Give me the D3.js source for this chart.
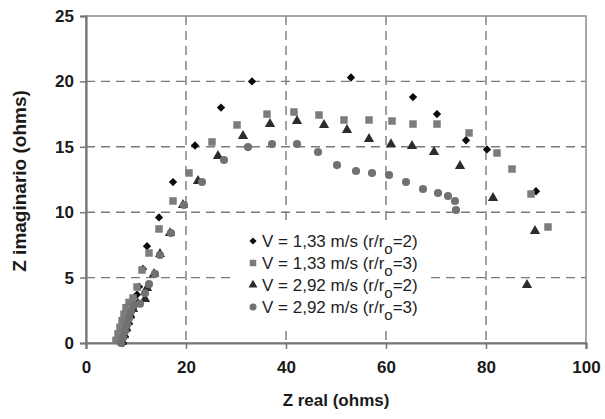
<!DOCTYPE html>
<html>
<head>
<meta charset="utf-8">
<script src="https://cdn.jsdelivr.net/npm/d3@7"></script>
<style>
  body { margin: 0; background: #fff; }
  text { font-family: "Liberation Sans", Arial, sans-serif; }
</style>
</head>
<body>
<div id="chart"></div>
<script>
var margin = {top: 16, right: 19, bottom: 76, left: 86},
    width = 605 - margin.left - margin.right,
    height = 419 - margin.top - margin.bottom;

// series labels
var velocities = ["1,33", "1,33", "2,92", "2,92"];
var ratios = ["2", "3", "2", "3"];

// [Z real, Z imaginario]
var serie1 = [[7.4,0],[7.8,0.5],[8.2,1.0],[8.6,1.5],[9.0,2.0],[9.4,2.6],[9.8,3.1],[10.2,3.7],[10.6,4.3],
  [11.4,5.66],[12.2,7.4],[14.6,9.6],[17.4,12.3],[21.8,15.1],[27.0,18.0],[33.2,20.0],[53.0,20.3],
  [65.4,18.8],[70.2,17.5],[76.0,15.5],[80.2,14.8],[90.0,11.6]];
var serie2 = [[6.0,0.2],[6.4,0.7],[6.8,1.2],[7.2,1.7],[7.6,2.2],[8.0,2.7],[8.6,3.1],[9.4,3.44],
  [10.2,4.28],[11.2,5.58],[12.6,6.88],[14.6,8.72],[17.4,10.86],[20.6,13.0],[25.2,15.37],[30.2,16.67],
  [36.2,17.5],[41.6,17.66],[46.6,17.43],[51.6,17.05],[56.6,17.05],[61.2,16.97],[65.4,16.74],
  [70.2,16.74],[76.6,16.06],[82.2,14.53],[85.2,13.3],[89.0,11.39],[92.4,8.87]];
var serie3 = [[7.2,0.1],[7.6,0.6],[8.0,1.1],[8.4,1.6],[8.8,2.1],[9.4,2.6],[10.4,3.0],[11.8,3.36],
  [12.2,4.2],[13.6,5.28],[14.8,6.8],[16.8,8.4],[19.4,10.55],[22.4,12.39],[26.4,14.3],[31.4,15.83],
  [36.8,16.74],[42.2,16.97],[47.6,16.67],[52.2,16.28],[56.6,15.6],[61.0,15.2],[65.2,15.06],
  [69.6,14.6],[74.8,13.53],[81.4,11.09],[89.8,8.56],[88.2,4.43]];
var serie4 = [[7.0,0.0],[7.4,0.4],[7.8,0.9],[8.2,1.4],[8.6,1.9],[9.0,2.4],[9.6,2.9],[10.8,3.0],
  [11.8,3.8],[12.6,4.5],[13.8,5.28],[14.8,6.73],[17.0,8.41],[19.6,10.55],[23.2,12.31],[27.6,13.99],
  [32.4,14.98],[37.2,15.21],[42.2,15.21],[46.4,14.6],[50.2,13.6],[54.0,13.15],[57.2,13.0],
  [60.6,12.84],[64.0,12.31],[67.4,11.77],[70.4,11.47],[72.4,11.24],[73.8,10.86],[74.0,10.17]];

var xTicks = [0, 20, 40, 60, 80, 100];
var yTicks = [0, 5, 10, 15, 20, 25];

var series = [serie1, serie2, serie3, serie4];
var shapes = [d3.symbolDiamond2 || d3.symbolDiamond, d3.symbolSquare, d3.symbolTriangle, d3.symbolCircle];
var sizes = [44, 56, 46, 52];
var colors = ["#0a0a0a", "#7c7c7c", "#2c2c2c", "#717171"];

var svg = d3.select("#chart")
  .append("svg")
  .attr("width", 605)
  .attr("height", 419);

var chart = svg.append("g")
  .attr("transform", "translate(" + margin.left + "," + margin.top + ")");

var x = d3.scaleLinear().domain([0, 100]).range([0, width]);
var y = d3.scaleLinear().domain([0, 25]).range([height, 0]);

// dashed grid
chart.selectAll(".vgrid")
  .data(xTicks.slice(1, -1))
  .enter().append("line")
  .attr("x1", d => x(d)).attr("x2", d => x(d))
  .attr("y1", 0).attr("y2", height)
  .attr("stroke", "#7a7a7a").attr("stroke-width", 1.4)
  .attr("stroke-dasharray", "9,6");

chart.selectAll(".hgrid")
  .data(yTicks.slice(1, -1))
  .enter().append("line")
  .attr("x1", 0).attr("x2", width)
  .attr("y1", d => y(d)).attr("y2", d => y(d))
  .attr("stroke", "#7a7a7a").attr("stroke-width", 1.4)
  .attr("stroke-dasharray", "9,6");

// frame
chart.append("rect")
  .attr("width", width).attr("height", height)
  .attr("fill", "none").attr("stroke", "#8a8a8a").attr("stroke-width", 1.5);

// axes
var xAxis = chart.append("g")
  .attr("transform", "translate(0," + height + ")")
  .call(d3.axisBottom(x).tickValues(xTicks).tickSize(6).tickPadding(12));
var yAxis = chart.append("g")
  .call(d3.axisLeft(y).tickValues(yTicks).tickSize(6).tickPadding(6));

[xAxis, yAxis].forEach(function (a) {
  a.select(".domain").attr("stroke", "#777").attr("stroke-width", 2.2);
  a.selectAll(".tick line").attr("stroke", "#777").attr("stroke-width", 1.5);
  a.selectAll(".tick text")
    .attr("fill", "#1a1a1a")
    .style("font-size", "17px")
    .style("font-weight", "bold")
    .style("font-family", "'Liberation Sans', Arial, sans-serif");
});

// legend box (white, hides the grid)
var legend = chart.append("g").attr("transform", "translate(" + (233 - margin.left) + "," + (222 - margin.top) + ")");
legend.append("rect")
  .attr("width", 197).attr("height", 106)
  .attr("fill", "#fff");

var rows = legend.selectAll(".row")
  .data(series)
  .enter().append("g")
  .attr("transform", (d, i) => "translate(0," + (19 + i * 22) + ")");

rows.append("path")
  .attr("transform", "translate(20,0)")
  .attr("d", (d, i) => d3.symbol().type(shapes[i]).size(sizes[i] * 0.75)())
  .attr("fill", (d, i) => colors[i]);

var label = rows.append("text")
  .attr("x", 29).attr("y", 6)
  .attr("fill", "#1e1e1e")
  .style("font-size", "17px");
label.append("tspan").text((d, i) => "V = " + velocities[i] + " m/s (r/r");
label.append("tspan").attr("dy", 7).style("font-size", "15px").text("o");
label.append("tspan").attr("dy", -7).text((d, i) => "=" + ratios[i] + ")");

// points
series.forEach(function (s, i) {
  chart.append("g").selectAll("path")
    .data(s)
    .enter().append("path")
    .attr("transform", d => "translate(" + x(d[0]) + "," + y(d[1]) + ")")
    .attr("d", d3.symbol().type(shapes[i]).size(sizes[i]))
    .attr("fill", colors[i]);
});

// axis titles
svg.append("text")
  .attr("x", 336).attr("y", 406)
  .attr("text-anchor", "middle")
  .attr("fill", "#1a1a1a")
  .style("font-size", "17px").style("font-weight", "bold")
  .text("Z real (ohms)");

svg.append("text")
  .attr("transform", "translate(26,181) rotate(-90)")
  .attr("text-anchor", "middle")
  .attr("fill", "#1a1a1a")
  .style("font-size", "19px").style("font-weight", "bold")
  .text("Z imaginario (ohms)");
</script>
</body>
</html>
